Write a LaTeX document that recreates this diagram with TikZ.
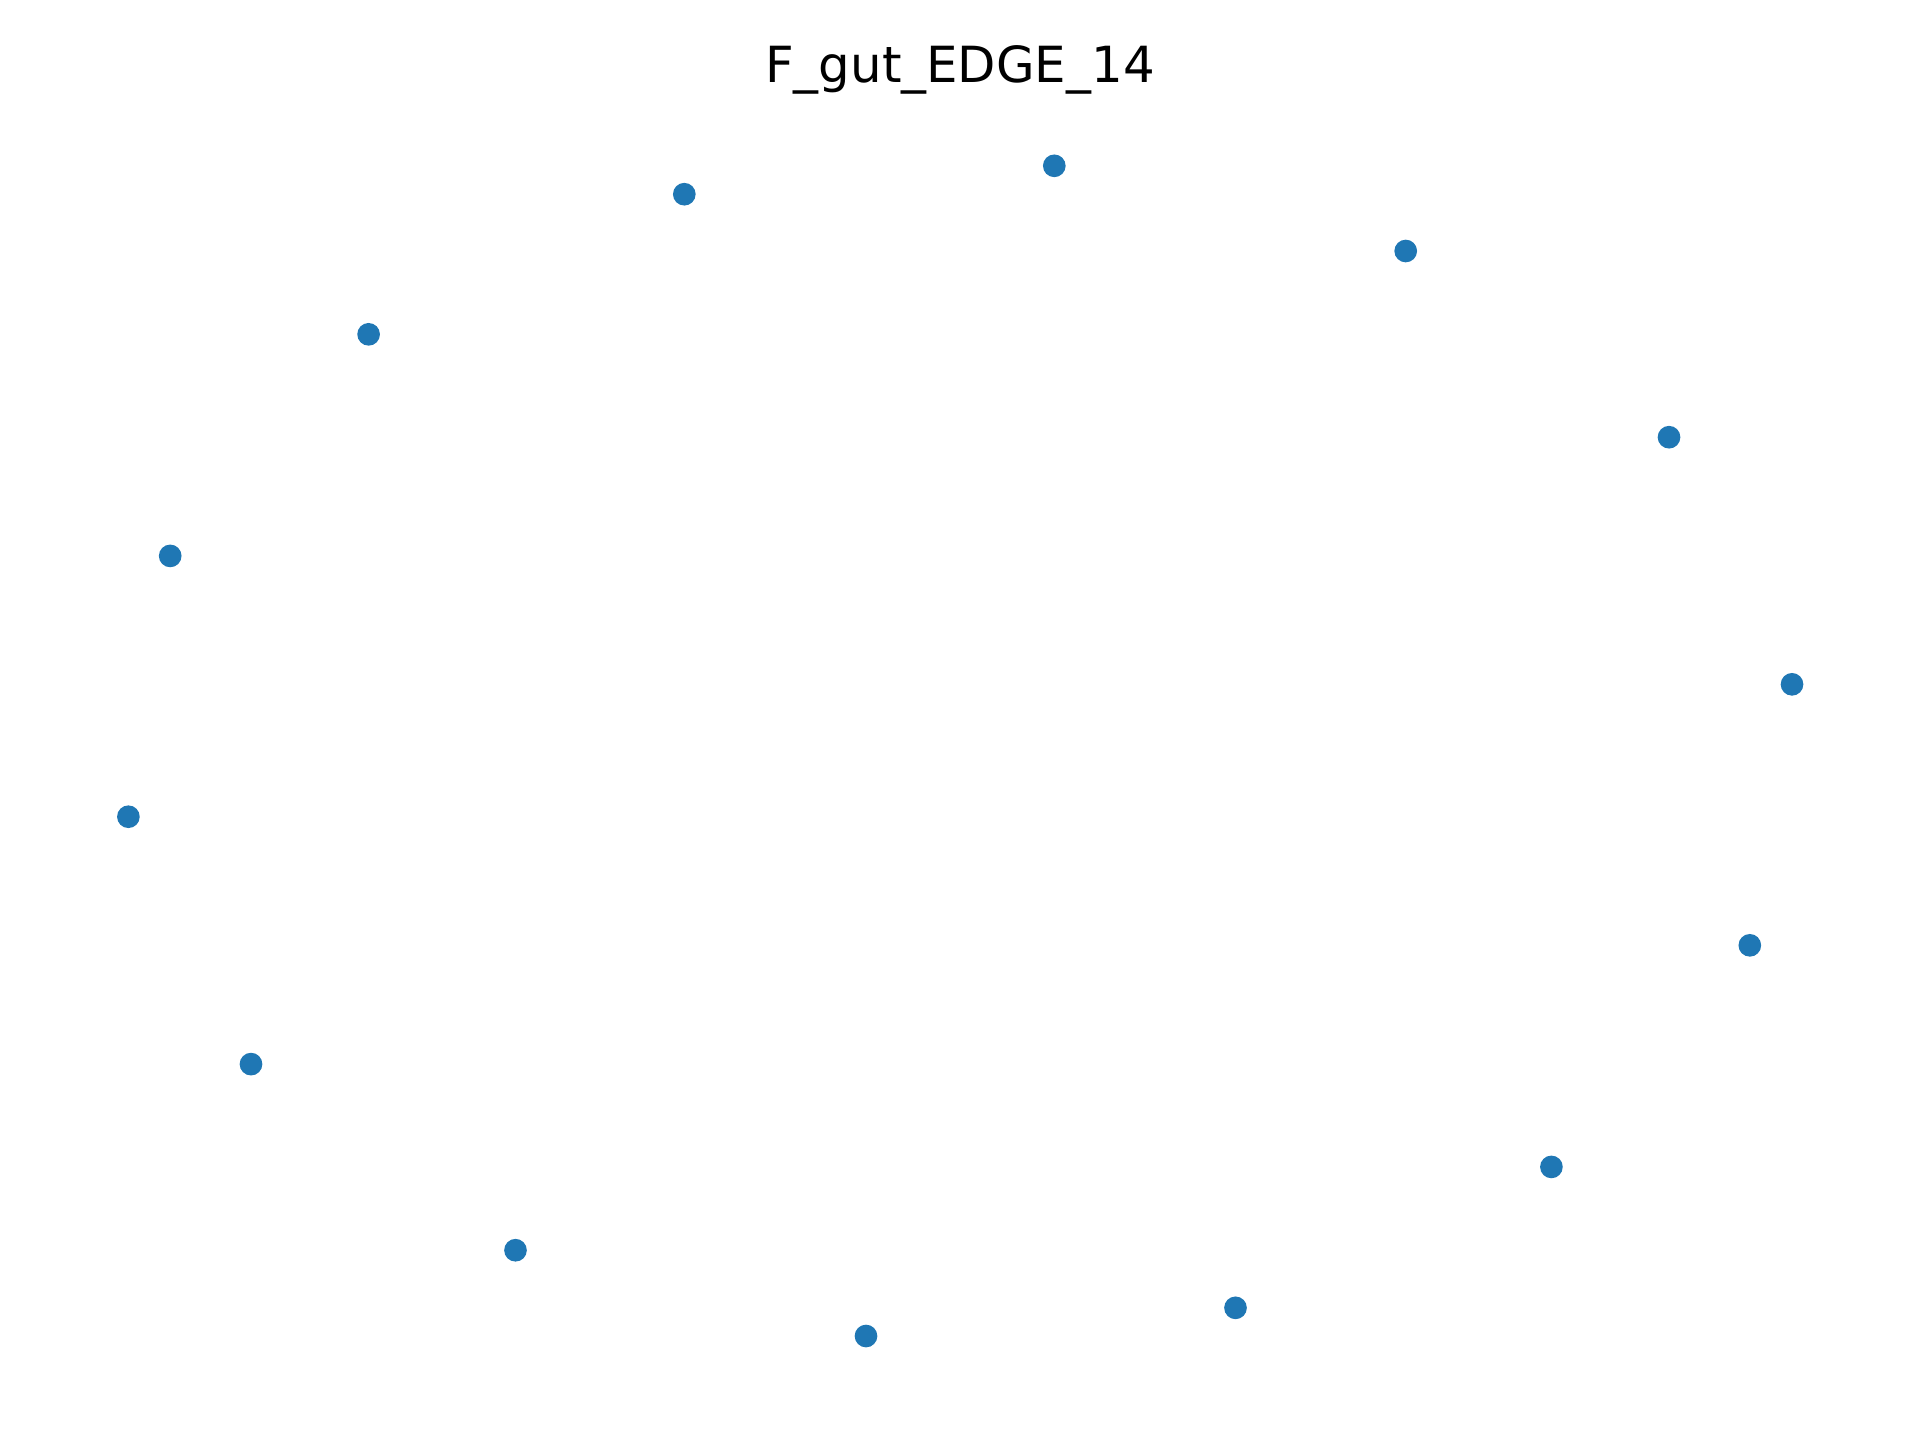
\documentclass[tikz,border=0pt]{standalone}
\usepackage{fontspec}
\setmainfont{DejaVu Sans}
\definecolor{mplblue}{HTML}{1F77B4}
\begin{document}
\begin{tikzpicture}[x=0.0846667mm,y=-0.0846667mm,
  dot/.style={circle,fill=mplblue,draw=none,minimum size=1.92mm,inner sep=0pt}]
\useasboundingbox (0,0) rectangle (1920,1440);
\node[anchor=base,font=\fontsize{12pt}{14pt}\selectfont] (title) at (960,82) {F\_gut\_EDGE\_14};
\node[dot] (n1) at (684.3,194.2) {};
\node[dot] (n2) at (1054.3,165.8) {};
\node[dot] (n3) at (1405.7,251.0) {};
\node[dot] (n4) at (1669.0,437.2) {};
\node[dot] (n5) at (1792.0,684.3) {};
\node[dot] (n6) at (1749.8,945.3) {};
\node[dot] (n7) at (1551.4,1166.9) {};
\node[dot] (n8) at (1235.5,1307.8) {};
\node[dot] (n9) at (866.0,1336.0) {};
\node[dot] (n10) at (515.5,1250.2) {};
\node[dot] (n11) at (251.0,1064.1) {};
\node[dot] (n12) at (128.4,816.7) {};
\node[dot] (n13) at (170.2,555.9) {};
\node[dot] (n14) at (368.6,334.3) {};
\end{tikzpicture}
\end{document}
